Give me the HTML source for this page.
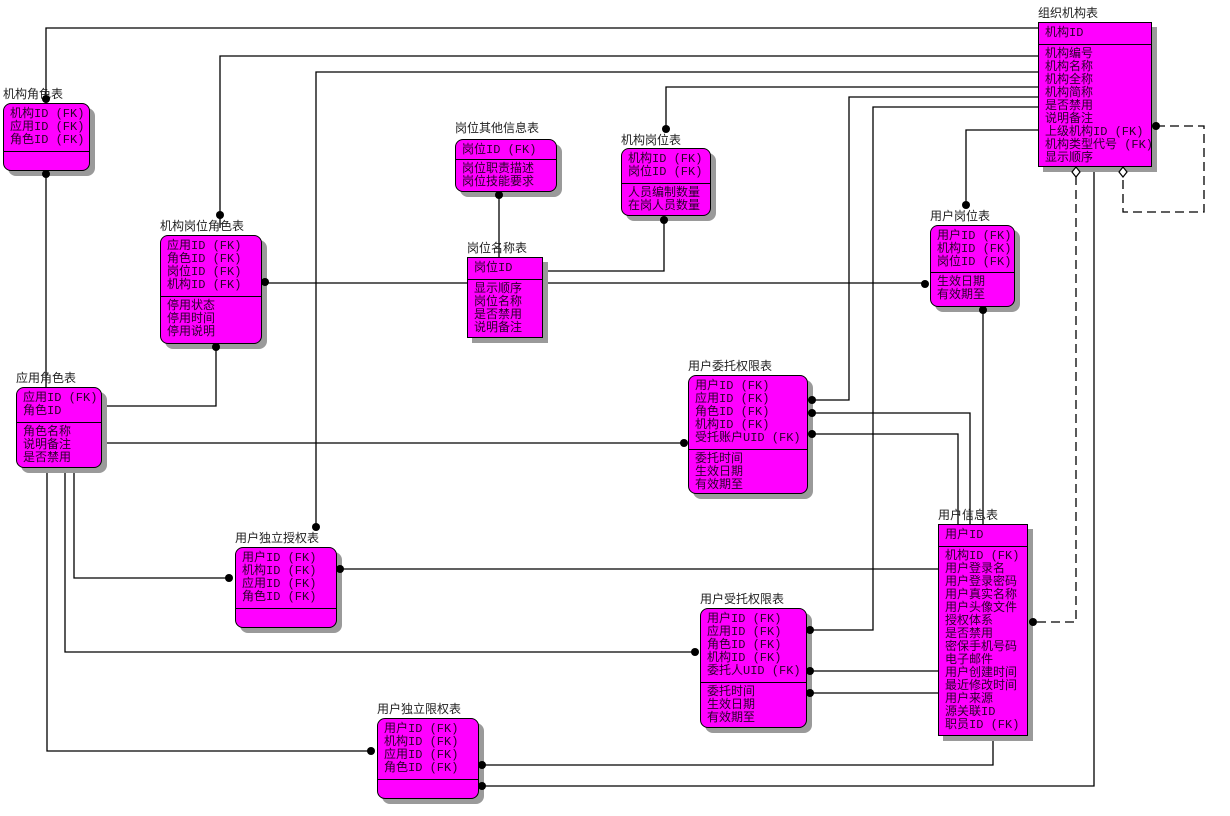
<!DOCTYPE html>
<html><head><meta charset="utf-8"><style>
html,body{margin:0;padding:0;background:#fff;}
body{width:1230px;height:816px;position:relative;overflow:hidden;font-family:"Liberation Mono","Noto Sans CJK SC",monospace;}
svg{position:absolute;left:0;top:0;}
.b{position:absolute;background:#ff00ff;border:1px solid #000;box-shadow:5px 5px 0 #9a9a9a;box-sizing:border-box;color:#2a002a;font-size:12px;line-height:13px;}
.r{border-radius:8px;}
.pk{border-bottom:1px solid #000;padding:4px 0 0 6px;box-sizing:border-box;white-space:pre;}
.at{padding:3px 0 0 6px;white-space:pre;}
.t{position:absolute;font-size:12px;line-height:13px;color:#222;font-family:"Liberation Sans","Noto Sans CJK SC",sans-serif;white-space:nowrap;}
</style></head><body>
<svg width="1230" height="816" xmlns="http://www.w3.org/2000/svg">
<g fill="none" stroke="#000" stroke-width="1.3">
<polyline points="1038,28 46,28 46,103"/>
<polyline points="1038,56 220,56 220,228"/>
<polyline points="1038,72 316,72 316,527"/>
<polyline points="1038,87 666,87 666,129"/>
<polyline points="1038,97 849,97 849,400 812,400"/>
<polyline points="1038,107 873,107 873,630 810,630"/>
<polyline points="1038,130 966,130 966,205"/>
<polyline points="1094,166 1094,786 482,786"/>
<line x1="46" y1="174" x2="46" y2="387"/>
<polyline points="216,347 216,406 101,406"/>
<line x1="265" y1="283" x2="925" y2="283"/>
<line x1="499" y1="195" x2="499" y2="257"/>
<polyline points="664,220 664,271 542,271"/>
<line x1="983" y1="310" x2="983" y2="524"/>
<polyline points="812,413 970,413 970,524"/>
<polyline points="812,434 958,434 958,524"/>
<line x1="101" y1="443" x2="684" y2="443"/>
<line x1="340" y1="569" x2="938" y2="569"/>
<line x1="810" y1="671" x2="938" y2="671"/>
<line x1="810" y1="693" x2="938" y2="693"/>
<polyline points="65,467 65,652 695,652"/>
<polyline points="74,467 74,578 229,578"/>
<polyline points="47,467 47,751 371,751"/>
<polyline points="482,765 993,765 993,735"/>
</g>
<g fill="none" stroke="#000" stroke-width="1.3" stroke-dasharray="9,5">
<polyline points="1156,126 1204,126 1204,212 1123,212 1123,176"/>
<polyline points="1076,176 1076,622 1036,622"/>
</g>
</svg>

<div class="t" style="left:1038px;top:7px">组织机构表</div>
<div class="b" style="left:1038px;top:22px;width:114px;height:145px">
<div class="pk" style="height:22px">机构ID</div>
<div class="at">机构编号
机构名称
机构全称
机构简称
是否禁用
说明备注
上级机构ID (FK)
机构类型代号 (FK)
显示顺序</div></div>

<div class="t" style="left:3px;top:88px">机构角色表</div>
<div class="b r" style="left:3px;top:103px;width:87px;height:68px">
<div class="pk" style="height:48px">机构ID (FK)
应用ID (FK)
角色ID (FK)</div></div>

<div class="t" style="left:160px;top:220px">机构岗位角色表</div>
<div class="b r" style="left:160px;top:235px;width:102px;height:109px">
<div class="pk" style="height:61px">应用ID (FK)
角色ID (FK)
岗位ID (FK)
机构ID (FK)</div>
<div class="at">停用状态
停用时间
停用说明</div></div>

<div class="t" style="left:455px;top:122px">岗位其他信息表</div>
<div class="b r" style="left:455px;top:139px;width:102px;height:53px">
<div class="pk" style="height:20px">岗位ID (FK)</div>
<div class="at">岗位职责描述
岗位技能要求</div></div>

<div class="t" style="left:621px;top:134px">机构岗位表</div>
<div class="b r" style="left:621px;top:148px;width:90px;height:68px">
<div class="pk" style="height:35px">机构ID (FK)
岗位ID (FK)</div>
<div class="at">人员编制数量
在岗人员数量</div></div>

<div class="t" style="left:467px;top:242px">岗位名称表</div>
<div class="b" style="left:467px;top:257px;width:76px;height:81px">
<div class="pk" style="height:22px">岗位ID</div>
<div class="at">显示顺序
岗位名称
是否禁用
说明备注</div></div>

<div class="t" style="left:930px;top:210px">用户岗位表</div>
<div class="b r" style="left:930px;top:225px;width:85px;height:82px">
<div class="pk" style="height:47px">用户ID (FK)
机构ID (FK)
岗位ID (FK)</div>
<div class="at">生效日期
有效期至</div></div>

<div class="t" style="left:16px;top:372px">应用角色表</div>
<div class="b r" style="left:16px;top:387px;width:86px;height:81px">
<div class="pk" style="height:35px">应用ID (FK)
角色ID</div>
<div class="at">角色名称
说明备注
是否禁用</div></div>

<div class="t" style="left:688px;top:360px">用户委托权限表</div>
<div class="b r" style="left:688px;top:375px;width:120px;height:119px">
<div class="pk" style="height:74px">用户ID (FK)
应用ID (FK)
角色ID (FK)
机构ID (FK)
受托账户UID (FK)</div>
<div class="at">委托时间
生效日期
有效期至</div></div>

<div class="t" style="left:235px;top:532px">用户独立授权表</div>
<div class="b r" style="left:235px;top:547px;width:102px;height:81px">
<div class="pk" style="height:61px">用户ID (FK)
机构ID (FK)
应用ID (FK)
角色ID (FK)</div></div>

<div class="t" style="left:700px;top:593px">用户受托权限表</div>
<div class="b r" style="left:700px;top:608px;width:107px;height:120px">
<div class="pk" style="height:74px">用户ID (FK)
应用ID (FK)
角色ID (FK)
机构ID (FK)
委托人UID (FK)</div>
<div class="at">委托时间
生效日期
有效期至</div></div>

<div class="t" style="left:938px;top:509px">用户信息表</div>
<div class="b" style="left:938px;top:524px;width:90px;height:212px">
<div class="pk" style="height:22px">用户ID</div>
<div class="at">机构ID (FK)
用户登录名
用户登录密码
用户真实名称
用户头像文件
授权体系
是否禁用
密保手机号码
电子邮件
用户创建时间
最近修改时间
用户来源
源关联ID
职员ID (FK)</div></div>

<div class="t" style="left:377px;top:703px">用户独立限权表</div>
<div class="b r" style="left:377px;top:718px;width:102px;height:81px">
<div class="pk" style="height:61px">用户ID (FK)
机构ID (FK)
应用ID (FK)
角色ID (FK)</div></div>

<svg width="1230" height="816" xmlns="http://www.w3.org/2000/svg">
<g fill="#fff" stroke="#000" stroke-width="1.2">
<polygon points="1123,167 1127,172 1123,177 1119,172"/>
<polygon points="1076,167 1080,172 1076,177 1072,172"/>
</g>
<g fill="#000">
<circle cx="46" cy="99" r="4"/><circle cx="46" cy="174" r="4"/>
<circle cx="220" cy="215" r="4"/><circle cx="216" cy="347" r="4"/>
<circle cx="265" cy="282" r="4"/><circle cx="925" cy="284" r="4"/>
<circle cx="316" cy="527" r="4"/><circle cx="666" cy="129" r="4"/>
<circle cx="499" cy="195" r="4"/><circle cx="664" cy="220" r="4"/>
<circle cx="966" cy="205" r="4"/><circle cx="983" cy="310" r="4"/>
<circle cx="1156" cy="126" r="4"/>
<circle cx="812" cy="400" r="4"/><circle cx="812" cy="413" r="4"/><circle cx="812" cy="434" r="4"/>
<circle cx="684" cy="443" r="4"/>
<circle cx="340" cy="569" r="4"/><circle cx="229" cy="578" r="4"/>
<circle cx="810" cy="630" r="4"/><circle cx="695" cy="652" r="4"/>
<circle cx="810" cy="671" r="4"/><circle cx="810" cy="693" r="4"/>
<circle cx="1033" cy="622" r="4"/>
<circle cx="371" cy="751" r="4"/><circle cx="482" cy="765" r="4"/><circle cx="482" cy="786" r="4"/>
</g>
</svg>
</body></html>
